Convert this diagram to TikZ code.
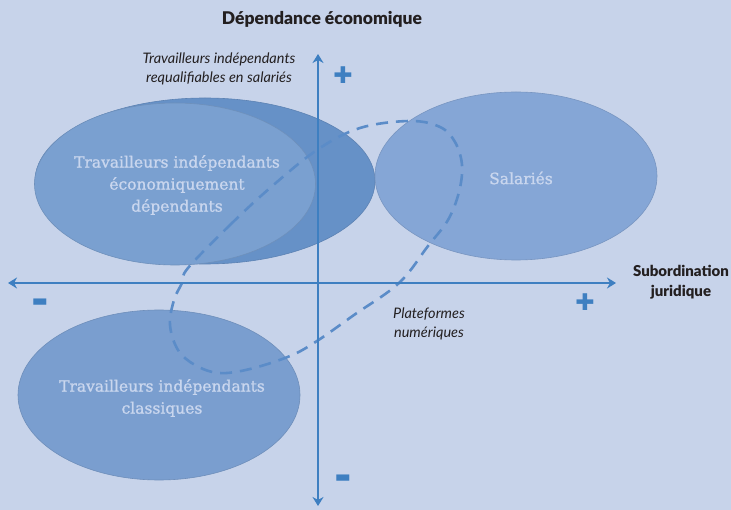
\documentclass[tikz,border=0pt]{standalone}
\usepackage{fontspec}
\setmainfont{Lato}
\newfontfamily\latoblack{Lato Black}
\newfontfamily\serifel[FakeBold=1.2]{DejaVu Serif}
\newfontfamily\symb{DejaVu Sans}
\usetikzlibrary{shapes.geometric,arrows.meta}
\definecolor{bg}{HTML}{C7D3EA}
\definecolor{axis}{HTML}{3E7FC1}
\definecolor{elldark}{HTML}{6691C7}
\definecolor{elllight}{HTML}{7AA0D0}
\definecolor{ellsal}{HTML}{85A6D6}
\definecolor{ellclass}{HTML}{7A9ECF}
\definecolor{elltext}{HTML}{C9D6EE}
\definecolor{dashc}{HTML}{5B8CC8}
\definecolor{ink}{HTML}{231F20}
\begin{document}
\begin{tikzpicture}[x=1pt,y=-1pt,
  ellbox/.style={ellipse,inner sep=0pt,draw=#1!90!black,line width=0.6pt,fill=#1},
  elllabel/.style={text=elltext,align=center,font=\serifel\fontsize{15.5}{22}\selectfont},
  axisline/.style={draw=axis,line width=2.6pt,{Stealth[length=9pt,width=11pt]}-{Stealth[length=9pt,width=11pt]}},
  sign/.style={text=axis,font=\symb\fontsize{17}{17}\selectfont,inner sep=0pt},
  itlabel/.style={text=ink,align=center,font=\itshape\fontsize{14.5}{19}\selectfont},
  bdlabel/.style={text=ink,align=center,font=\latoblack\fontsize{15}{20}\selectfont},
  platdash/.style={draw=dashc,line width=2.6pt,dash pattern=on 12pt off 8pt}]
\fill[bg] (0,0) rectangle (731,510);
\useasboundingbox (0,0) rectangle (731,510);
% ellipses
\node[ellbox=elldark,minimum width=340pt,minimum height=166pt] (eco) at (205,181) {};
\node[ellbox=elllight,minimum width=281pt,minimum height=162pt] (ecol) at (175,184) {};
\node[elllabel] at (177,185) (ecot) {Travailleurs indépendants\\économiquement\\dépendants};
\node[ellbox=ellsal,minimum width=282pt,minimum height=168pt] (sal) at (516,176) {};
\node[elllabel] at (521,178) (salt) {Salariés};
\node[ellbox=ellclass,minimum width=282pt,minimum height=170pt] (cla) at (159,395) {};
\node[elllabel] at (162,398) (clat) {Travailleurs indépendants\\classiques};
% dashed loop
\draw[platdash] plot[smooth cycle,tension=0.6] coordinates {
 (188,268) (230,225) (270,188) (317,150) (360,128) (410,121) (440,127) (455,142)
 (462,165) (459,192) (448,220) (428,246) (399,283) (354,315) (317,341)
 (290,356) (250,369) (219,373) (195,365) (178,350) (170,325) (174,300) (182,283)};
% axes
\coordinate (xl) at (8,283);
\coordinate (xr) at (616,283);
\coordinate (yt) at (318,54);
\coordinate (yb) at (318,506);
\draw[axisline] (xl) -- (xr);
\draw[axisline] (yb) -- (yt);
% signs
\node[sign,font=\symb\fontsize{23}{23}\selectfont] (pt) at (343,75) {✚};
\node[sign,font=\symb\fontsize{23}{23}\selectfont] (pr) at (585,302) {✚};
\node[sign] (ml) at (40,303) {▬};
\node[sign] (mb) at (343,479) {▬};
% labels
\node[bdlabel,font=\latoblack\fontsize{17.5}{20}\selectfont] (title) at (322,19) {Dépendance économique};
\node[itlabel] (req) at (219,69) {Travailleurs indépendants\\requalifiables en salariés};
\node[bdlabel] (sub) at (681,282) {Subordination\\juridique};
\node[itlabel] (plat) at (429,324) {Plateformes\\numériques};
\end{tikzpicture}
\end{document}
